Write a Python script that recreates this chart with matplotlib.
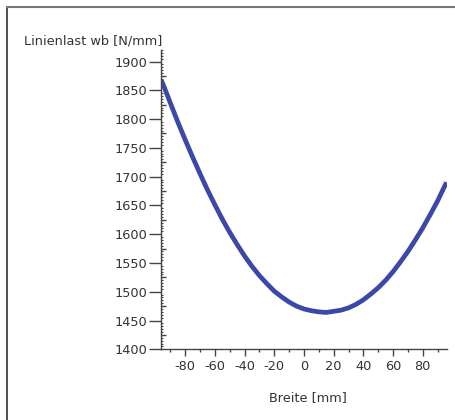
import matplotlib
matplotlib.use("Agg")
import matplotlib.pyplot as plt
from matplotlib.lines import Line2D
from matplotlib.ticker import MultipleLocator, FixedLocator, NullFormatter

# Data
breite = [-96, -95, -90, -85, -80, -75, -70, -65, -60, -55, -50, -45, -40, -35, -30, -25, -20, -15, -10, -5,
          0, 5, 10, 15, 20, 25, 30, 35, 40, 45, 50, 55, 60, 65, 70, 75, 80, 85, 90, 95, 96]
linienlast = [1867, 1861, 1828, 1795, 1764, 1734, 1705, 1677, 1651, 1626, 1603, 1582, 1562, 1544, 1528, 1514,
              1501, 1491, 1482, 1475, 1470, 1467, 1465, 1464, 1466, 1468, 1472, 1478, 1486, 1496, 1507, 1520,
              1535, 1552, 1570, 1590, 1611, 1634, 1658, 1685, 1690]
x_ticks = [-80, -60, -40, -20, 0, 20, 40, 60, 80]
y_ticks = [1400, 1450, 1500, 1550, 1600, 1650, 1700, 1750, 1800, 1850, 1900]

W, H = 456, 420
fig = plt.figure(figsize=(W / 100, H / 100), dpi=100)
fig.patch.set_facecolor("white")

left, right, top, bottom = 161, 447, 50, 349.3
ax = fig.add_axes([left / W, (H - bottom) / H, (right - left) / W, (bottom - top) / H])

txt = "#36322e"
axc = "#444444"
fs = 9.3
ax.plot(breite, linienlast, color="#3b48a8", lw=3.4, solid_capstyle="butt", solid_joinstyle="round")

ax.set_xlim(-96.3, 96.3)
ax.set_ylim(1400, 1920)

for s in ["top", "right"]:
    ax.spines[s].set_visible(False)
for s in ["left", "bottom"]:
    ax.spines[s].set_color(axc)
    ax.spines[s].set_linewidth(1.0)

ax.xaxis.set_major_locator(FixedLocator(x_ticks))
ax.xaxis.set_minor_locator(MultipleLocator(10))
ax.yaxis.set_major_locator(FixedLocator(y_ticks))
ax.yaxis.set_minor_locator(MultipleLocator(5))
ax.tick_params(axis="x", which="major", direction="out", length=5, width=1, color=axc,
               labelsize=fs, labelcolor=txt, pad=3)
ax.tick_params(axis="x", which="minor", direction="out", length=2.5, width=1, color=axc)
ax.tick_params(axis="y", which="major", direction="out", length=8.5, width=1, color=axc,
               labelsize=fs, labelcolor=txt, pad=1)
ax.tick_params(axis="y", which="minor", direction="in", length=1.5, width=0.8, color=axc)

# medium ticks at the 25s on the y axis
sec = ax.secondary_yaxis("left")
sec.yaxis.set_major_locator(FixedLocator([v + 25 for v in y_ticks[:-1]] + [1925]))
sec.yaxis.set_major_formatter(NullFormatter())
sec.tick_params(axis="y", direction="in", length=3.5, width=1, color=axc)
sec.spines["left"].set_visible(False)

ax.set_xticklabels([str(v) for v in x_ticks])
ax.set_yticklabels([str(v) for v in y_ticks])

fig.text(308 / W, 1 - 398 / H, "Breite [mm]", ha="center", va="center", fontsize=fs, color=txt)
fig.text(162 / W, 1 - 41 / H, "Linienlast wb [N/mm]", ha="right", va="center", fontsize=fs, color=txt)

# outer frame (top and left edges)
fig.add_artist(Line2D([7 / W, 7 / W], [0, 1 - 7 / H], transform=fig.transFigure, color="#333333", lw=1.2))
fig.add_artist(Line2D([7 / W, 1], [1 - 7 / H, 1 - 7 / H], transform=fig.transFigure, color="#777777", lw=1.5))

fig.savefig("out.png", dpi=100, facecolor="white")
